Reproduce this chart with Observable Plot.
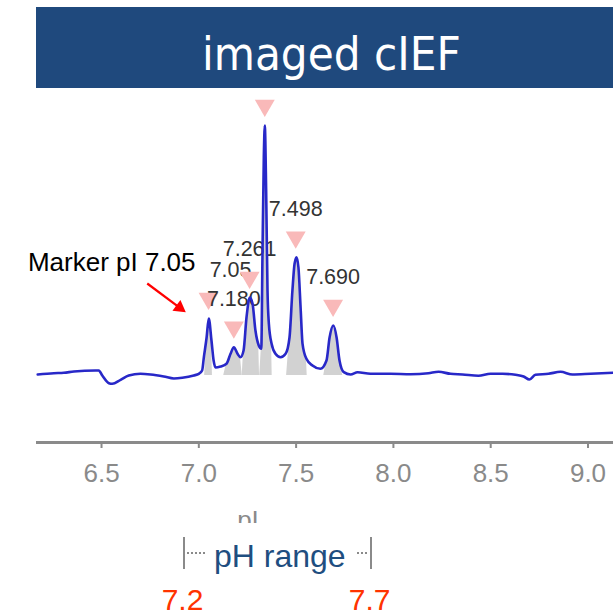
<!DOCTYPE html>
<html><head><meta charset="utf-8">
<script src="https://cdn.jsdelivr.net/npm/d3@7"></script>
<script src="https://cdn.jsdelivr.net/npm/@observablehq/plot@0.6"></script>
<style>
html,body{margin:0;padding:0;background:#fff;}
#page{position:relative;width:613px;height:614px;overflow:hidden;font-family:"Liberation Sans",Arial,sans-serif;}
#banner{position:absolute;left:36px;top:7px;width:577px;height:81px;background:#1f497d;}
#title{position:absolute;left:202px;top:29.5px;font-family:"DejaVu Sans Condensed","DejaVu Sans",sans-serif;font-stretch:condensed;font-size:47px;line-height:1;color:#fff;white-space:nowrap;}
#chart{position:absolute;left:0;top:88px;width:613px;height:435px;overflow:hidden;}
#chart g[aria-label="x-axis tick"] path{stroke-width:2;}
.bar{position:absolute;top:537px;width:2px;height:32px;background:#8a8a8a;}
.dots{position:absolute;top:552px;height:0;border-top:2px dotted #8a8a8a;}
.t{position:absolute;line-height:1;white-space:nowrap;}
.red{width:80px;text-align:center;font-size:30px;color:#ff3300;top:585.4px;}
</style></head>
<body>
<div id="page">
  <div id="banner"></div>
  <div id="title">imaged cIEF</div>
  <div id="chart"></div>
  <div class="bar" style="left:182.5px"></div>
  <div class="dots" style="left:187px;width:18px"></div>
  <div class="t" style="left:214px;top:539.6px;font-size:32px;color:#1f4e80">pH range</div>
  <div class="dots" style="left:357px;width:10px"></div>
  <div class="bar" style="left:369.5px"></div>
  <div class="t red" style="left:142.5px">7.2</div>
  <div class="t red" style="left:329.7px">7.7</div>
</div>
<script>
// electropherogram trace (pI vs. signal above baseline)
const tracePI = [6.172,6.255,6.306,6.358,6.469,6.486,6.504,6.538,6.555,6.598,6.640,6.700,6.752,6.820,6.872,6.915,6.974,7.000,7.017,7.026,7.040,7.051,7.065,7.076,7.086,7.112,7.142,7.163,7.180,7.199,7.214,7.230,7.245,7.262,7.276,7.291,7.308,7.321,7.327,7.334,7.339,7.346,7.353,7.360,7.374,7.394,7.420,7.446,7.466,7.481,7.492,7.502,7.512,7.523,7.533,7.553,7.584,7.625,7.656,7.672,7.691,7.708,7.723,7.745,7.780,7.816,7.882,7.985,8.088,8.180,8.232,8.293,8.355,8.437,8.499,8.561,8.627,8.669,8.699,8.730,8.797,8.859,8.920,9.013,9.131];
const traceSignal = [1,2.3,2.7,4,5,5,0,-7.7,-8.3,-4.3,0,1.7,1,-1,-3,-2.3,0,1.7,5,18.3,38,57,35,15,8,9,11.7,21.7,28.3,21.7,18.3,25,58,78,72,45,30,26.7,118,218,250,185,85,51.7,31.7,21.7,18.3,21.7,38,85,111.7,118.3,108,68,31.7,16.7,10,6.7,15,38,50,38,15,3.3,1,3.3,1.7,1.7,1.3,2.3,3.7,1.7,1,-0.3,1.7,1.7,0.7,-1,-4,0.7,1.7,3.7,1,1.7,2.7];

// identified peaks
const peakPI = [7.05, 7.180, 7.261, 7.339, 7.498, 7.690];
const peakHeight = [57, 28.3, 78, 250, 118.3, 50];
const peakLabel = ["7.05", "7.180", "7.261", "", "7.498", "7.690"];

// fitted peak areas (pI ranges)
const fitLo = [7.030, 7.128, 7.223, 7.313, 7.451, 7.642];
const fitHi = [7.070, 7.223, 7.312, 7.377, 7.557, 7.740];

// marker
const markerPI = 7.05;
const markerText = "Marker pI 7.05";

// axis
const xDomain = [6.171, 9.131];
const yDomain = [-67, 287];
const xTicks = [6.5, 7.0, 7.5, 8.0, 8.5, 9.0];
const xLabel = "pI";

const trace = tracePI.map((x, i) => ({x, y: traceSignal[i]}));
const peaks = peakPI.map((x, i) => ({x, y: peakHeight[i], label: peakLabel[i]}));
const grayRows = [];
fitLo.forEach((lo, g) => {
  const hi = fitHi[g];
  grayRows.push({x: lo, y: 0, g});
  trace.filter(d => d.x > lo && d.x < hi).forEach(d => grayRows.push({x: d.x, y: d.y, g}));
  grayRows.push({x: hi, y: 0, g});
});
const marker = peaks.filter(d => d.x === markerPI);

const font = "'Liberation Sans', Arial, sans-serif";
const chart = Plot.plot({
  width: 613, height: 435,
  marginLeft: 37, marginRight: 0, marginTop: 0, marginBottom: 81,
  x: {domain: xDomain, ticks: xTicks, tickFormat: d => d.toFixed(1), tickSize: 6, tickPadding: 15, label: null},
  y: {domain: yDomain, axis: null},
  style: {fontFamily: font, fontSize: "26px", color: "#8a8a8a", background: "transparent", overflow: "hidden"},
  marks: [
    Plot.areaY(grayRows, {x: "x", y: "y", z: "g", fill: "#d2d2d2"}),
    Plot.frame({anchor: "bottom", stroke: "#8a8a8a", strokeWidth: 3}),
    Plot.text(peaks.filter(d => d.x === markerPI), {x: "x", y: "y", text: "label", dy: -48, dx: 22, fontSize: 21.5, fill: "#333"}),
    Plot.dot(peaks, {x: "x", y: "y", symbol: "triangle", r: 7.4, rotate: 180, dy: -20, fill: "#f9b9b9"}),
    Plot.text(peaks.filter(d => d.label && d.x !== markerPI), {x: "x", y: "y", text: "label", dy: -48, fontSize: 21.5, fill: "#333"}),
    Plot.text(marker, {x: "x", y: "y", text: () => markerText, textAnchor: "end", dx: -13, dy: -56, fontSize: 26, fill: "#000"}),
    Plot.link(marker, {x1: d => d.x - 0.315, y1: d => d.y + 35, x2: d => d.x - 0.149, y2: d => d.y + 10.8, stroke: "#ff0000", strokeWidth: 2.2}),
    Plot.dot(marker, {x: d => d.x - 0.149, y: d => d.y + 10.8, symbol: "triangle", r: 5, rotate: 126.6, fill: "#ff0000"}),
    Plot.line(trace, {x: "x", y: "y", stroke: "#2828c8", strokeWidth: 2.6, curve: "monotone-x"}),
    Plot.text([xLabel], {frameAnchor: "bottom", dx: -77.5, dy: 86, fontSize: 26, fill: "#8a8a8a"})
  ]
});
document.getElementById("chart").appendChild(chart);
</script>
</body></html>
